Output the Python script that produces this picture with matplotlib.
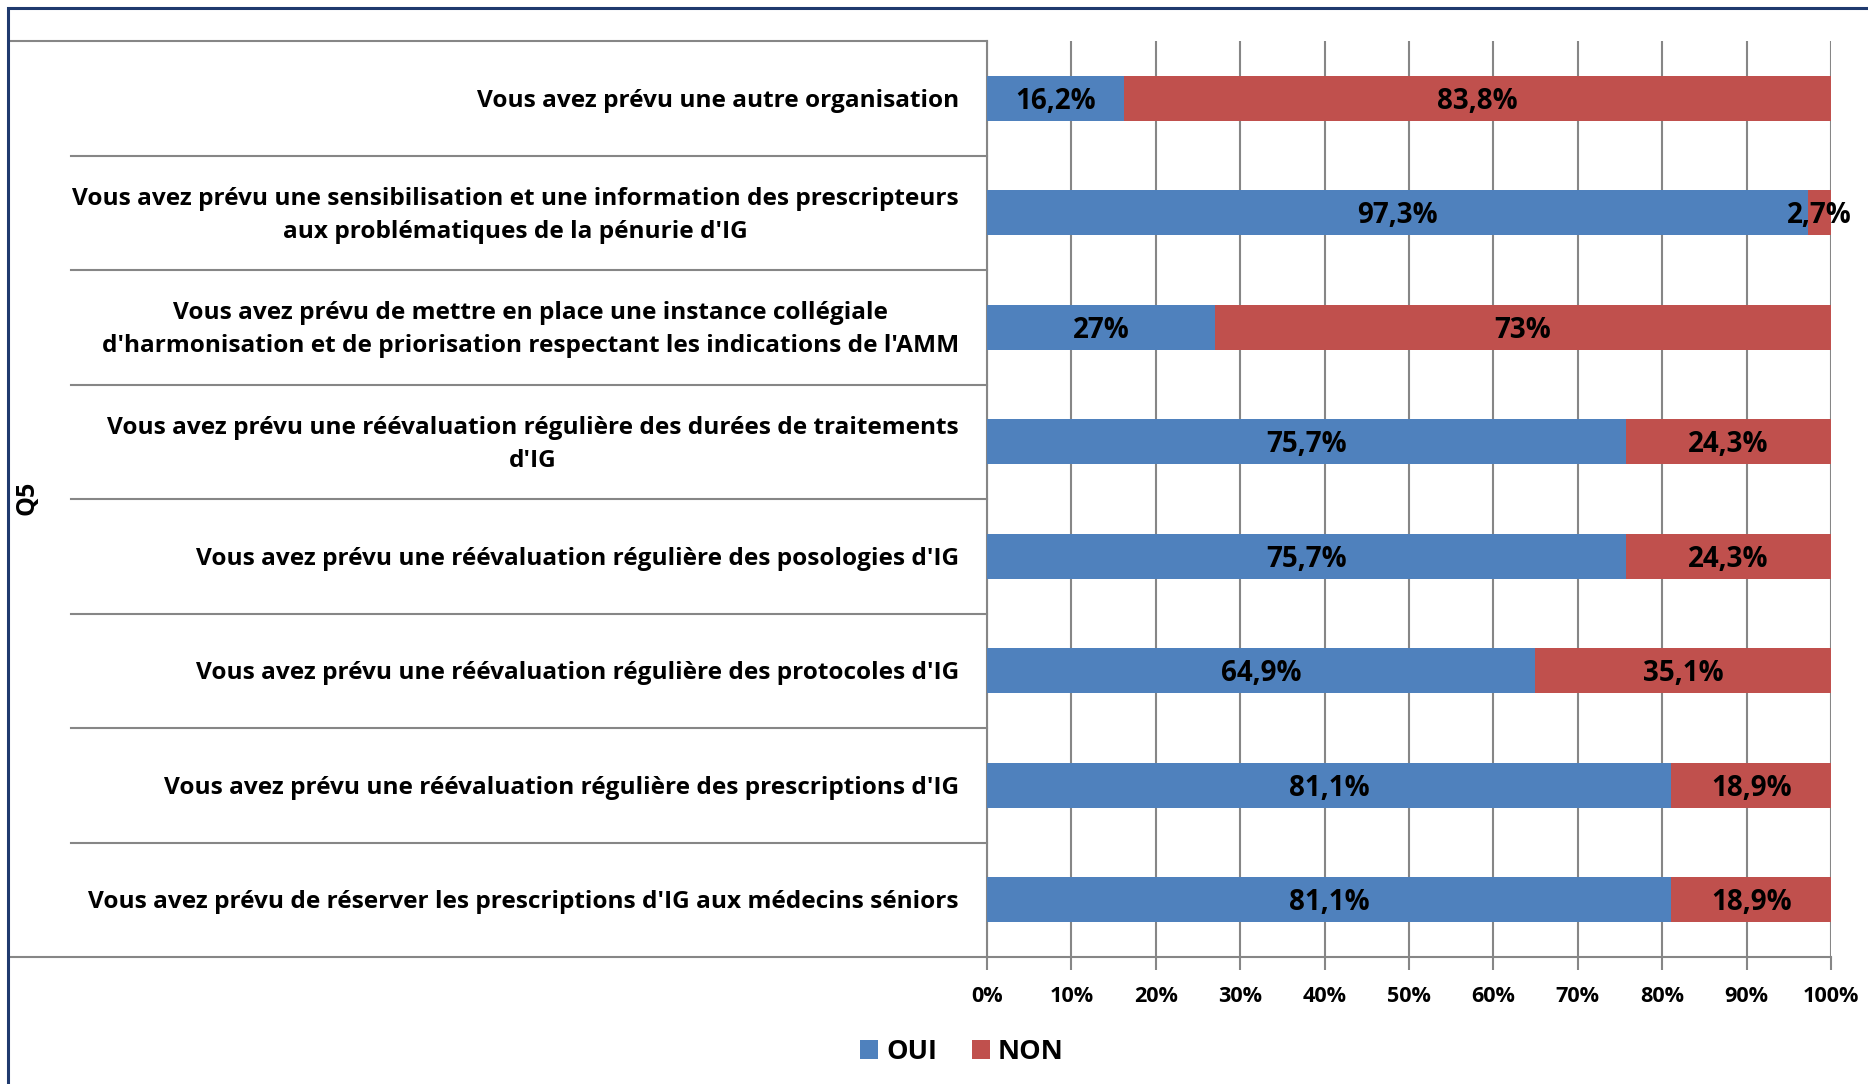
import matplotlib; matplotlib.use('Agg')
import matplotlib.pyplot as plt
import matplotlib.transforms as mtrans
from matplotlib.patches import Rectangle

categories = [
    "Vous avez prévu une autre organisation",
    "Vous avez prévu une sensibilisation et une information des prescripteurs\naux problématiques de la pénurie d'IG",
    "Vous avez prévu de mettre en place une instance collégiale\nd'harmonisation et de priorisation respectant les indications de l'AMM",
    "Vous avez prévu une réévaluation régulière des durées de traitements\nd'IG",
    "Vous avez prévu une réévaluation régulière des posologies d'IG",
    "Vous avez prévu une réévaluation régulière des protocoles d'IG",
    "Vous avez prévu une réévaluation régulière des prescriptions d'IG",
    "Vous avez prévu de réserver les prescriptions d'IG aux médecins séniors",
]
oui = [16.2, 97.3, 27, 75.7, 75.7, 64.9, 81.1, 81.1]
non = [83.8, 2.7, 73, 24.3, 24.3, 35.1, 18.9, 18.9]
xticks = list(range(0, 101, 10))
group_label = "Q5"

def fmt(v):
    return f"{v:g}".replace('.', ',') + '%'

plt.rcParams['font.family'] = ['Open Sans', 'DejaVu Sans']
plt.rcParams['font.weight'] = 'bold'
grey = '#868686'
blue, red = '#4F81BD', '#C0504D'
fs = 17.6

W, H = 1868, 1084
fig = plt.figure(figsize=(W/100, H/100), dpi=100)
ax = fig.add_axes([987/W, 1-957/H, 844/W, 916/H])

y = list(range(len(categories)))
ax.barh(y, oui, height=0.39, color=blue, label='OUI', zorder=3)
ax.barh(y, non, left=oui, height=0.39, color=red, label='NON', zorder=3)
for i in y:
    ax.text(oui[i]/2, i + 0.025, fmt(oui[i]), ha='center', va='center', fontsize=20, zorder=4)
    ax.text(oui[i] + non[i]/2, i + 0.025, fmt(non[i]), ha='center', va='center', fontsize=20, zorder=4)

ax.set_xlim(0, 100)
ax.set_ylim(len(categories)-0.5, -0.5)
ax.set_xticks(xticks, [f'{t}%' for t in xticks], fontsize=15.6, fontweight='bold')
ax.set_yticks([])
ax.tick_params(axis='x', length=9, color=grey, width=1.5, pad=12)
ax.grid(axis='x', color=grey, lw=1.5, zorder=0)
for s in ['top', 'right']:
    ax.spines[s].set_visible(False)
for s in ['left', 'bottom']:
    ax.spines[s].set_color(grey)
    ax.spines[s].set_linewidth(1.5)

tr = mtrans.blended_transform_factory(ax.transAxes, ax.transData)
xl = -28/844
for i, c in enumerate(categories):
    ax.text(xl, i + 0.02, c, transform=tr, ha='right', va='center', multialignment='center',
            fontsize=fs, linespacing=1.5)
n = len(categories)
for b in range(1, n):
    ax.plot([(71-987)/844, 0], [b-0.5, b-0.5], transform=tr, color=grey, lw=1.5, clip_on=False)
for b in [-0.5, n-0.5]:
    ax.plot([(9-987)/844, 0], [b, b], transform=tr, color=grey, lw=1.5, clip_on=False)

fig.text(27/W, 1-498/H, group_label, rotation=90, ha='center', va='center', fontsize=18)

fig.legend(loc='center', bbox_to_anchor=(962/W, 1-1052/H), ncol=2, frameon=False,
           fontsize=19.5, handlelength=0.65, handleheight=0.65, handletextpad=0.3, columnspacing=1.3)

fig.patches.append(Rectangle((8/W, -0.1), 1.2, 1.1-8/H, transform=fig.transFigure,
                             fill=False, edgecolor='#1F3A6E', lw=2.2))

plt.savefig('out.png', dpi=100)
